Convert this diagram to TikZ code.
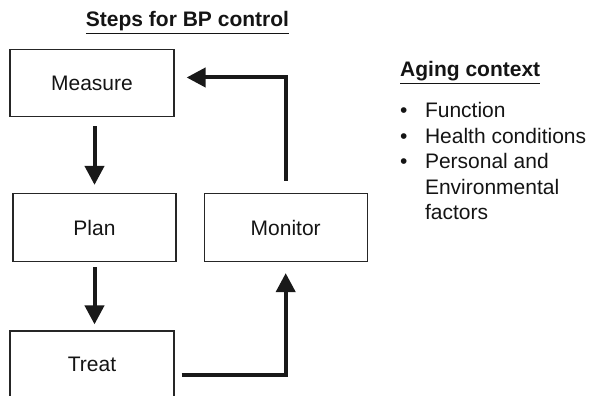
\documentclass[tikz,border=0pt]{standalone}
\usepackage{fontspec}
\setmainfont{Liberation Sans}
\usetikzlibrary{arrows.meta,positioning}

\begin{document}
\begin{tikzpicture}[x=1pt, y=1pt,
    stepbox/.style={rectangle, draw=black!85, line width=1.2pt, minimum width=164pt, minimum height=67pt,
        text centered, font=\fontsize{21}{25.5}\selectfont, text=black!92},
    flow/.style={draw=black!90, line width=4pt, -{Triangle[length=19pt,width=19pt]}},
    heading/.style={font=\fontsize{21}{25.5}\selectfont\bfseries, text=black!92, inner sep=0pt, anchor=base},
    aspect/.style={font=\fontsize{21}{25.5}\selectfont, text=black!92, inner sep=0pt, anchor=base west}
    ]
    \useasboundingbox (0,0) rectangle (595,396);
    \node (Title) [heading] at (187.5,369) {\underline{Steps for BP control}};
    \node (Measure) [stepbox] at (92,313) {Measure};
    \node (Plan) [stepbox, minimum width=163pt, minimum height=68pt] at (94.5,168.5) {Plan};
    \node (Monitor) [stepbox, minimum width=163pt, minimum height=68pt, right=27pt of Plan] {Monitor};
    \node (Treat) [stepbox] at (92,31.5) {Treat};
    \draw [flow, shorten <=9pt, shorten >=8pt] (Measure.south -| Plan.north) -- (Plan.north);
    \draw [flow, shorten <=5pt, shorten >=6pt] (Plan.south) -- (Treat.north -| Plan.south);
    \draw [flow] ([shift={(7pt,-10.5pt)}]Treat.east) -| ([yshift=-11pt]Monitor.south);
    \draw [flow] ([yshift=12pt]Monitor.north) |- ([shift={(12pt,5.5pt)}]Measure.east);
    \node (Aging) [heading, anchor=base west] at (400,319) {\underline{Aging context}};
    \node (Factors) [aspect] at (400,278) {\begin{tabular}[t]{@{}l@{\hspace{17.5pt}}l@{}}
        \textbullet & Function\\
        \textbullet & Health conditions\\
        \textbullet & Personal and\\
                    & Environmental\\
                    & factors
    \end{tabular}};
\end{tikzpicture}
\end{document}
